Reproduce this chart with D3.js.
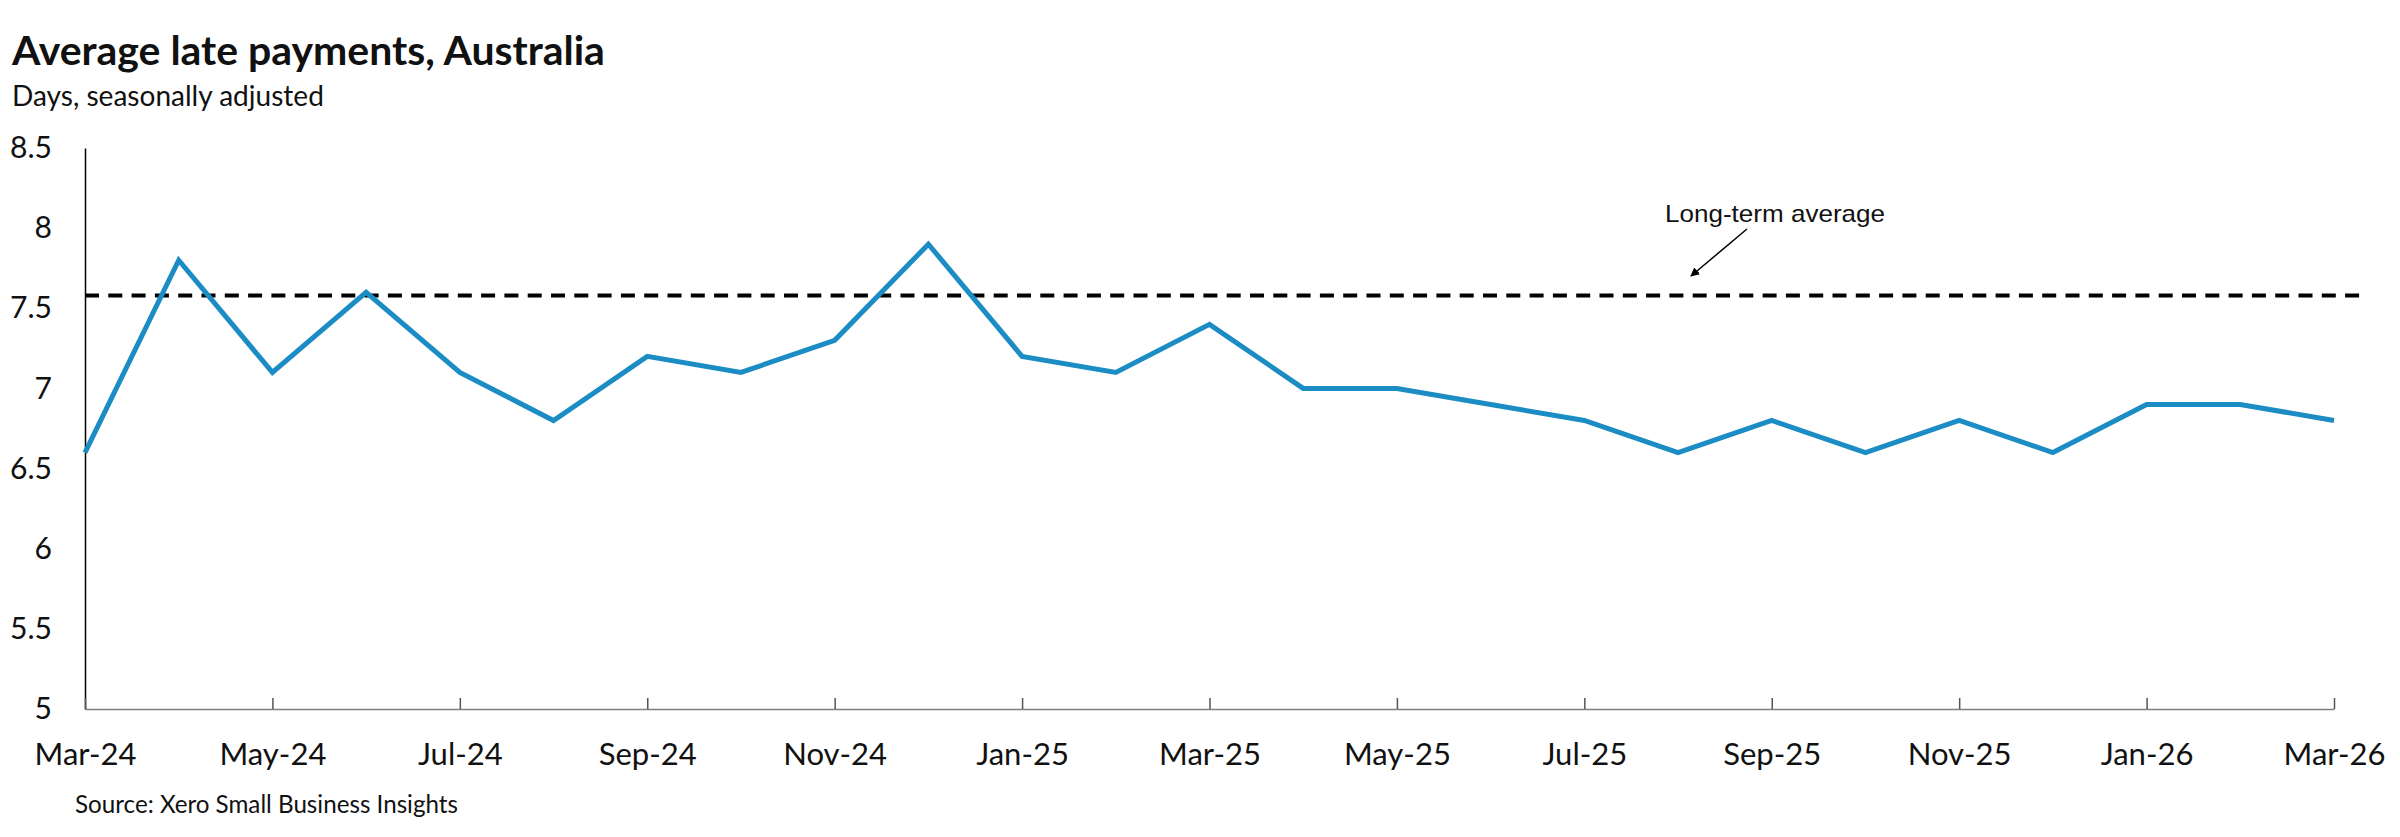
<!DOCTYPE html>
<html>
<head>
<meta charset="utf-8">
<script src="https://cdn.jsdelivr.net/npm/d3@7"></script>
<style>
  html, body { margin: 0; padding: 0; background: #fff; }
  svg { display: block; }
</style>
</head>
<body>
<svg id="chart" width="2400" height="837"></svg>
<script>
// ---- data ----
const months = ["Mar-24","Apr-24","May-24","Jun-24","Jul-24","Aug-24","Sep-24","Oct-24","Nov-24","Dec-24",
  "Jan-25","Feb-25","Mar-25","Apr-25","May-25","Jun-25","Jul-25","Aug-25","Sep-25","Oct-25","Nov-25","Dec-25",
  "Jan-26","Feb-26","Mar-26"];
const lateDays = [6.6,7.8,7.1,7.6,7.1,6.8,7.2,7.1,7.3,7.9,
  7.2,7.1,7.4,7.0,7.0,6.9,6.8,6.6,6.8,6.6,6.8,6.6,
  6.9,6.9,6.8];
const longTermAverage = 7.58;
const yTicks = [5,5.5,6,6.5,7,7.5,8,8.5];
const xTickLabels = ["Mar-24","May-24","Jul-24","Sep-24","Nov-24","Jan-25","Mar-25","May-25","Jul-25","Sep-25","Nov-25","Jan-26","Mar-26"];
const titleText = "Average late payments, Australia";
const subtitleText = "Days, seasonally adjusted";
const sourceText = "Source: Xero Small Business Insights";
const annotationText = "Long-term average";

// ---- layout ----
const svg = d3.select("#chart");
const plotL = 85, plotR = 2334, plotT = 148, plotB = 709;
const sansC = "Lato, 'Open Sans', sans-serif";

const x = d3.scalePoint().domain(months).range([plotL, plotR]);
const y = d3.scaleLinear().domain([5, 8.5]).range([plotB, plotT]);

// scale a text's font-size so that its width matches a target width
function fitWidth(sel, target) {
  const node = sel.node();
  const fs = parseFloat(sel.attr("font-size"));
  const w = node.getComputedTextLength();
  if (w > 0) sel.attr("font-size", (fs * target / w).toFixed(2));
  return parseFloat(sel.attr("font-size"));
}

// title & subtitle
const title = svg.append("text").attr("x", 12).attr("y", 65)
  .attr("font-family", sansC).attr("font-weight", 700).attr("font-size", 38)
  .attr("fill", "#111").text(titleText);
fitWidth(title, 593);
const subtitle = svg.append("text").attr("x", 12).attr("y", 106)
  .attr("font-family", sansC).attr("font-size", 27)
  .attr("fill", "#111").text(subtitleText);
fitWidth(subtitle, 312);

// y axis
const yAxis = d3.axisLeft(y).tickValues(yTicks).tickSize(0).tickPadding(33)
  .tickFormat(d => d3.format("")(d));
const gy = svg.append("g").attr("transform", `translate(${plotL},0)`).call(yAxis);
gy.select(".domain").attr("stroke", "#000").attr("stroke-width", 1.5);
gy.selectAll("text").attr("font-family", sansC).attr("font-size", 28).attr("fill", "#111");
{
  const probe = svg.append("text").attr("font-family", sansC).attr("font-size", 28).text("8.5");
  const fsY = fitWidth(probe, 42);
  probe.remove();
  gy.selectAll("text").attr("font-size", fsY);
}

// x axis
const xAxis = d3.axisBottom(x).tickValues(xTickLabels).tickSize(0).tickPadding(0);
const gx = svg.append("g").attr("transform", `translate(0,${plotB})`).call(xAxis);
gx.select(".domain").attr("stroke", "#7f7f7f").attr("stroke-width", 1.5);
gx.selectAll(".tick line").attr("y1", 0).attr("y2", -11).attr("stroke", "#555").attr("stroke-width", 1.5);
gx.selectAll(".tick text").attr("dy", 0).attr("y", 56)
  .attr("font-family", sansC).attr("font-size", 28).attr("fill", "#111");
{
  const probe = svg.append("text").attr("font-family", sansC).attr("font-size", 28).text("Mar-24");
  const fsX = fitWidth(probe, 102);
  probe.remove();
  gx.selectAll(".tick text").attr("font-size", fsX);
}

// long-term average dashed line
svg.append("line")
  .attr("x1", plotL).attr("x2", 2365)
  .attr("y1", y(longTermAverage)).attr("y2", y(longTermAverage))
  .attr("stroke", "#000").attr("stroke-width", 4).attr("stroke-dasharray", "14,9.3");

// series line
const line = d3.line().x((d, i) => x(months[i])).y(d => y(d));
svg.append("path").datum(lateDays)
  .attr("d", line).attr("fill", "none")
  .attr("stroke", "#1b8cc4").attr("stroke-width", 5).attr("stroke-linejoin", "miter");

// annotation
svg.append("defs").append("marker").attr("id", "arr")
  .attr("viewBox", "0 0 10 10").attr("refX", 9).attr("refY", 5)
  .attr("markerWidth", 9).attr("markerHeight", 9).attr("markerUnits", "userSpaceOnUse")
  .attr("orient", "auto")
  .append("path").attr("d", "M0,0 L10,5 L0,10 z").attr("fill", "#000");
svg.append("line").attr("x1", 1747).attr("y1", 229).attr("x2", 1691).attr("y2", 276)
  .attr("stroke", "#000").attr("stroke-width", 1.5).attr("marker-end", "url(#arr)");
svg.append("text").attr("x", 1665).attr("y", 222)
  .attr("font-family", "'Liberation Sans', Arial, sans-serif").attr("font-size", 24)
  .attr("textLength", 220).attr("lengthAdjust", "spacingAndGlyphs")
  .attr("fill", "#111").text(annotationText);

// source
const source = svg.append("text").attr("x", 75).attr("y", 813)
  .attr("font-family", sansC).attr("font-size", 22)
  .attr("fill", "#111").text(sourceText);
fitWidth(source, 383);
</script>
</body>
</html>
